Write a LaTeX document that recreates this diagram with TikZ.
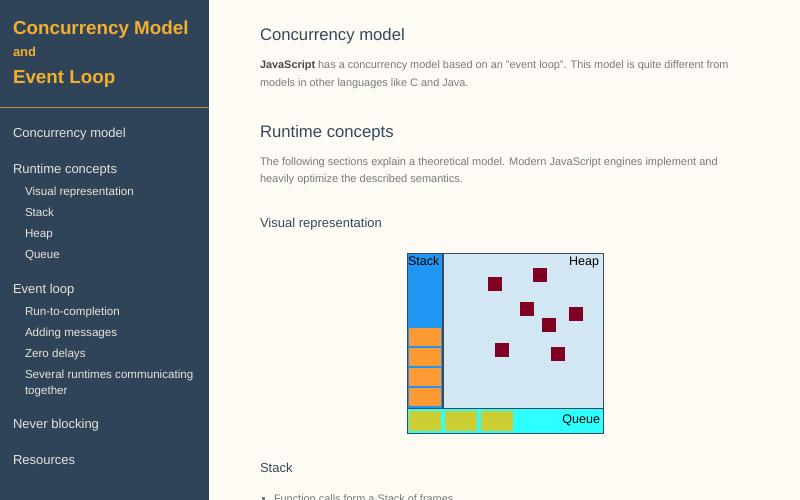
\documentclass[tikz,border=0pt]{standalone}
\usepackage{fontspec}
\setmainfont{Liberation Sans}
\definecolor{sidebg}{HTML}{2F4459}
\definecolor{titley}{HTML}{F2B02E}
\definecolor{sidetxt}{HTML}{E6E4DA}
\definecolor{mainbg}{HTML}{FDFBF3}
\definecolor{headc}{HTML}{34495E}
\definecolor{parac}{HTML}{7A7A7A}
\definecolor{boldc}{HTML}{4A4A4A}
\definecolor{stackc}{HTML}{1E96F2}
\definecolor{heapc}{HTML}{D2E7F3}
\definecolor{queuec}{HTML}{2DFFFF}
\definecolor{framec}{HTML}{FF9933}
\definecolor{msgc}{HTML}{CCCC33}
\definecolor{objc}{HTML}{7F0022}
\definecolor{linec}{HTML}{3C4A58}
\tikzset{
  every node/.style={inner sep=0pt, outer sep=0pt},
  title/.style={anchor=base west, text=titley, font=\fontsize{18.8}{22}\selectfont\bfseries},
  titlesmall/.style={anchor=base west, text=titley, font=\fontsize{13}{15}\selectfont\bfseries},
  sideitem/.style={anchor=base west, text=sidetxt, font=\fontsize{13}{15}\selectfont},
  subitem/.style={anchor=base west, text=sidetxt, font=\fontsize{11.6}{14}\selectfont},
  heading/.style={anchor=base west, text=headc, font=\fontsize{16.7}{20}\selectfont},
  subheading/.style={anchor=base west, text=headc, font=\fontsize{13}{15}\selectfont},
  para/.style={anchor=base west, text=parac, font=\fontsize{10.9}{13}\selectfont},
  dlabel/.style={text=black, font=\fontsize{12.5}{14}\selectfont},
  frame/.style={fill=framec},
  msg/.style={fill=msgc},
  obj/.style={fill=objc}
}
\begin{document}
\begin{tikzpicture}[x=1pt,y=-1pt]
\useasboundingbox (0,0) rectangle (800,500);
\clip (0,0) rectangle (800,500);
% backgrounds
\fill[mainbg] (0,0) rectangle (800,500);
\fill[sidebg] (0,0) rectangle (209,500);
% sidebar title
\node[title] (t1) at (13,35) {Concurrency Model};
\node[titlesmall] (t2) at (13,57) {and};
\node[title] (t3) at (13,84) {Event Loop};
\draw[titley!70!sidebg, line width=1pt] (0,107.5) -- (209,107.5);
% sidebar menu
\node[sideitem] (m1) at (13,137) {Concurrency model};
\node[sideitem] (m2) at (13,173) {Runtime concepts};
\node[subitem] (m3) at (25,195) {Visual representation};
\node[subitem] (m4) at (25,216) {Stack};
\node[subitem] (m5) at (25,237) {Heap};
\node[subitem] (m6) at (25,258) {Queue};
\node[sideitem] (m7) at (13,293) {Event loop};
\node[subitem] (m8) at (25,315) {Run-to-completion};
\node[subitem] (m9) at (25,336) {Adding messages};
\node[subitem] (m10) at (25,357) {Zero delays};
\node[subitem] (m11) at (25,378) {Several runtimes communicating};
\node[subitem] (m12) at (25,394) {together};
\node[sideitem] (m13) at (13,428) {Never blocking};
\node[sideitem] (m14) at (13,464) {Resources};
% main content
\node[heading] (h1) at (260,41) {Concurrency model};
\node[para] (p1) at (260,69) {\textcolor{boldc}{\bfseries JavaScript} has a concurrency model based on an "event loop". This model is quite different from};
\node[para] (p2) at (260,86.5) {models in other languages like C and Java.};
\node[heading] (h2) at (260,137) {Runtime concepts};
\node[para, font=\fontsize{11}{13}\selectfont] (p3) at (260,165) {The following sections explain a theoretical model. Modern JavaScript engines implement and};
\node[para, font=\fontsize{11}{13}\selectfont] (p4) at (260,182.5) {heavily optimize the described semantics.};
\node[subheading] (h3) at (260,227) {Visual representation};
\node[subheading] (h4) at (260,472) {Stack};
\fill[parac] (262,496.5) rectangle (265,499.5);
\node[para] (p5) at (274,502.5) {Function calls form a Stack of frames.};
% diagram
\fill[heapc] (407,253) rectangle (603,408);
\fill[stackc] (407,253) rectangle (443,408);
\fill[queuec] (407,408) rectangle (603,433);
\fill[frame] (409,328) rectangle (441,346);
\fill[frame] (409,348) rectangle (441,366);
\fill[frame] (409,368) rectangle (441,386);
\fill[frame] (409,388) rectangle (441,406);
\fill[msg] (409,411) rectangle (441,431);
\fill[msg] (445,411) rectangle (477,431);
\fill[msg] (481,411) rectangle (513,431);
\fill[obj] (488,277) rectangle (502,291);
\fill[obj] (533,268) rectangle (547,282);
\fill[obj] (520,302) rectangle (534,316);
\fill[obj] (542,318) rectangle (556,332);
\fill[obj] (569,307) rectangle (583,321);
\fill[obj] (495,343) rectangle (509,357);
\fill[obj] (551,347) rectangle (565,361);
\draw[linec, line width=0.7pt] (407,253) rectangle (603,433);
\draw[linec, line width=1.4pt] (443,253) -- (443,408);
\draw[linec, line width=0.8pt] (407,408) -- (603,408);
\node[dlabel, anchor=base west] (ls) at (408,265) {Stack};
\node[dlabel, anchor=base east] (lh) at (599,265) {Heap};
\node[dlabel, anchor=base east] (lq) at (600,423.5) {Queue};
\end{tikzpicture}
\end{document}
